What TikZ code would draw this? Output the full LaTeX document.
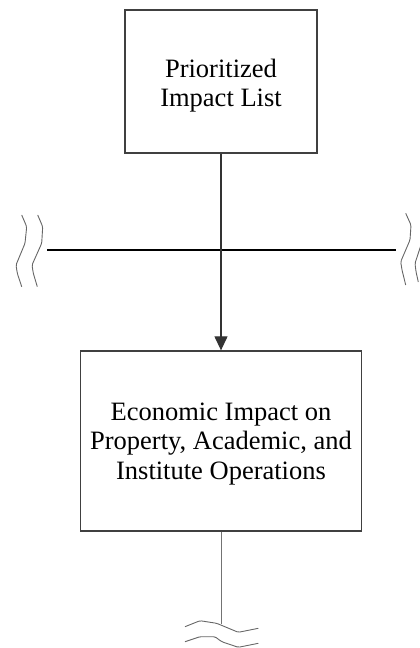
\documentclass[tikz,border=0pt]{standalone}
\usepackage{fontspec}
\setmainfont{Liberation Serif}
\usetikzlibrary{arrows.meta}
\begin{document}
\begin{tikzpicture}[x=1pt,y=-1pt,
  box/.style={draw=black!75, line width=1.3pt, inner sep=0pt},
  label text/.style={align=center, inner sep=0pt,
    font=\fontsize{26.5}{29.5}\selectfont},
  link/.style={draw=black!80, line width=1.2pt},
  thinlink/.style={draw=black!55, line width=0.9pt},
  brk/.style={draw=black!60, line width=0.9pt, line join=round, rounded corners=1.5pt}]
\useasboundingbox (0,0) rectangle (420,648);

% process boxes
\node[box, minimum width=192pt, minimum height=143pt] (a) at (221,81.5) {};
\node[box, minimum width=281pt, minimum height=180pt] (b) at (221,441) {};
\node[label text, yshift=-4pt] (atext) at (a) {Prioritized\\Impact List};
\node[label text, yshift=-3pt] (btext) at (b)
  {Economic Impact on\\Property, Academic, and\\Institute Operations};

% horizontal boundary line
\coordinate (hl) at (47,250);
\coordinate (hr) at (395.5,250);
\draw[line width=1.3pt] (hl) -- (hr);

% connectors
\draw[link, -{Triangle[length=14pt,width=13pt]}] (a) -- (b);
\coordinate (cut) at (221,624);
\draw[thinlink] (b) -- (cut);

% break marks, left
\draw[brk] (21.7,215) -- (26.7,226.7) -- (25,243.3) -- (16,265) -- (17.3,273.3) -- (21.7,286.7);
\draw[brk] (37.7,215) -- (42.7,226.7) -- (41.7,243.3) -- (32,265) -- (33.3,273.3) -- (37.3,286.7);
% break marks, right
\draw[brk] (405.7,213.3) -- (411,225) -- (410,240) -- (400.7,261.7) -- (402,270) -- (405.7,285);
\draw[brk] (421,245) -- (415,263.3) -- (416,271.7) -- (418.3,282);
% break marks, bottom
\draw[brk] (185,626.7) -- (200,620.7) -- (216.7,623.3) -- (238.3,632.3) -- (258.3,628.3);
\draw[brk] (185,641.7) -- (200,636.7) -- (215,636.7) -- (221.7,641.7) -- (238.3,647.3) -- (258.3,643.3);
\end{tikzpicture}
\end{document}
